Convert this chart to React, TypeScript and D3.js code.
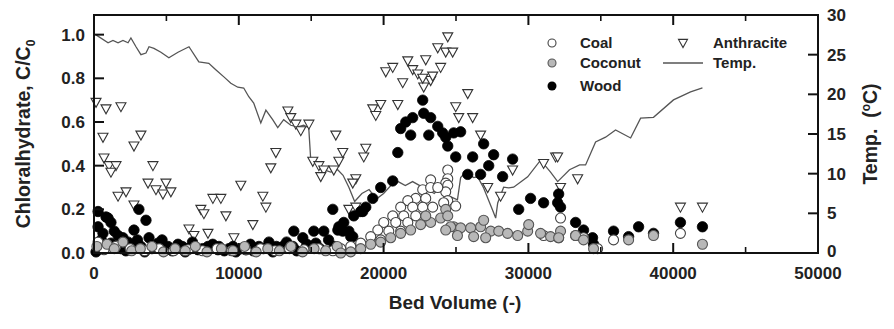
import React from "react";
import * as d3 from "d3";

const xTicks = [0, 10000, 20000, 30000, 40000, 50000];
const xMinorTicks = [5000, 15000, 25000, 35000, 45000];
const yTicks = [0, 0.2, 0.4, 0.6, 0.8, 1.0];
const tTicks = [0, 5, 10, 15, 20, 25, 30];

const anthracite: [number, number][] = [
  [140, 0.69], [830, 0.66], [1860, 0.67], [620, 0.53], [690, 0.435], [1035, 0.4], [1520, 0.4], [1170, 0.37],
  [3240, 0.54], [2760, 0.49], [4070, 0.4], [3730, 0.32], [4970, 0.32], [4280, 0.29], [4760, 0.27], [5310, 0.28],
  [1660, 0.26], [2210, 0.28], [2760, 0.22], [7380, 0.2], [7590, 0.18], [8210, 0.25], [8760, 0.25], [9110, 0.17],
  [10140, 0.31], [11660, 0.26], [11870, 0.21], [10970, 0.13], [6560, 0.11], [6900, 0.08], [7870, 0.09], [9660, 0.07],
  [12210, 0.39], [12560, 0.46], [13390, 0.65], [13590, 0.62], [13940, 0.59], [14280, 0.56], [14840, 0.59],
  [15110, 0.42], [15530, 0.4], [15870, 0.38], [15660, 0.35], [16700, 0.54], [16560, 0.38], [16910, 0.42],
  [17180, 0.46], [18770, 0.48], [18630, 0.44], [18080, 0.34], [17870, 0.32], [19250, 0.66], [19800, 0.68],
  [19460, 0.63], [20980, 0.68], [20150, 0.83], [20630, 0.85], [21320, 0.78], [21670, 0.88], [22010, 0.84],
  [22360, 0.82], [22910, 0.885], [22770, 0.76], [23250, 0.79], [23940, 0.85], [23740, 0.94], [24290, 0.92],
  [24770, 0.92], [24430, 0.99], [22700, 0.8], [23390, 0.81], [25810, 0.73], [24980, 0.67], [25190, 0.62],
  [26150, 0.62], [26700, 0.54], [28910, 0.38], [31880, 0.44], [31050, 0.41], [17600, 0.2], [18080, 0.21],
  [27190, 0.3], [28080, 0.26], [32020, 0.44], [33400, 0.34], [32220, 0.3], [40500, 0.21], [42020, 0.21],
];

const wood: [number, number][] = [
  [280, 0.19], [970, 0.16], [3100, 0.2], [3590, 0.15], [2760, 0.105], [16490, 0.2], [13800, 0.1], [15180, 0.1],
  [15870, 0.1], [16840, 0.105], [830, 0.165], [1170, 0.14], [280, 0.12], [620, 0.09], [1660, 0.08], [2350, 0.05],
  [3800, 0.07], [4420, 0.045], [5110, 0.03], [5800, 0.04], [6490, 0.02], [7180, 0.015], [7870, 0.03], [8560, 0.015],
  [140, 0.005], [1170, 0.045], [1860, 0.02], [3240, 0.03], [8630, 0.03], [9320, 0.02], [10490, 0.015],
  [11390, 0.03], [12080, 0.05], [13040, 0.03], [14420, 0.07], [15320, 0.045], [13730, 0.03], [9800, 0.005],
  [12350, 0.005], [16910, 0.12], [20980, 0.46], [20630, 0.33], [19800, 0.3], [19250, 0.25], [18770, 0.21],
  [18420, 0.19], [17940, 0.17], [17250, 0.14], [17040, 0.115], [17600, 0.1], [17870, 0.075], [22700, 0.7],
  [22010, 0.62], [22770, 0.64], [23250, 0.62], [21530, 0.6], [21180, 0.57], [21870, 0.54], [23120, 0.54],
  [23740, 0.58], [24080, 0.55], [24290, 0.53], [24840, 0.55], [25320, 0.555], [24430, 0.49], [24980, 0.44],
  [25810, 0.36], [26150, 0.44], [26910, 0.5], [27600, 0.45], [26700, 0.36], [27260, 0.4], [28220, 0.35],
  [28910, 0.43], [30150, 0.25], [29330, 0.2], [31050, 0.23], [32020, 0.23], [18560, 0.19], [17180, 0.1],
  [17730, 0.075], [32090, 0.27], [32220, 0.21], [33260, 0.14], [33810, 0.105], [34430, 0.07], [34500, 0.04],
  [35880, 0.1], [36920, 0.075], [37610, 0.12], [38640, 0.09], [40500, 0.14], [42020, 0.12],
  [500, 0.06], [1400, 0.1], [2000, 0.07], [2600, 0.04], [3000, 0.06], [4000, 0.02], [4700, 0.06], [5400, 0.01],
  [6100, 0.03], [6800, 0.05], [7500, 0.02], [8200, 0.04], [9000, 0.01], [9600, 0.03], [10200, 0.02],
  [10800, 0.04], [11000, 0.01], [11700, 0.02], [12600, 0.03], [13300, 0.05], [14000, 0.01], [14700, 0.04],
  [15600, 0.02], [16200, 0.06], [16600, 0.03], [2200, 0.01], [3500, 0.005], [5000, 0.015], [6300, 0.005],
];

const coal: [number, number][] = [
  [24430, 0.38], [24430, 0.34], [24290, 0.32], [24430, 0.31], [24290, 0.28], [24430, 0.24], [24980, 0.215],
  [24150, 0.23], [23250, 0.335], [22700, 0.29], [23250, 0.3], [22220, 0.25], [22910, 0.25], [23740, 0.3],
  [21670, 0.24], [21180, 0.21], [22010, 0.21], [22700, 0.21], [23390, 0.21], [20630, 0.17], [21390, 0.17],
  [22220, 0.17], [20010, 0.14], [20840, 0.14], [21670, 0.14], [19600, 0.105], [20360, 0.1], [21180, 0.1],
  [19110, 0.075], [19800, 0.06], [18420, 0.045], [17730, 0.03], [17040, 0.02], [280, 0.05], [690, 0.015],
  [1500, 0.03], [2500, 0.02], [3500, 0.01], [4500, 0.02], [5500, 0.01], [6500, 0.015], [7500, 0.01],
  [8500, 0.02], [9500, 0.01], [10500, 0.015], [11500, 0.02], [12500, 0.01], [13500, 0.02], [14500, 0.015],
  [15500, 0.02], [16500, 0.01], [31050, 0.08], [32090, 0.07], [32220, 0.16], [33260, 0.08], [33810, 0.07],
  [34780, 0.02], [35880, 0.06], [40500, 0.09],
];

const coconut: [number, number][] = [
  [200, 0.03], [900, 0.04], [1400, 0.02], [2000, 0.05], [2600, 0.01], [3200, 0.02], [4000, 0.03], [4800, 0.005],
  [5600, 0.02], [6300, 0.01], [7000, 0.03], [7800, 0.005], [8800, 0.02], [9600, 0.01], [10400, 0.03],
  [11200, 0.005], [12000, 0.02], [12800, 0.01], [13600, 0.03], [14400, 0.005], [15200, 0.02], [16000, 0.01],
  [16800, 0.03], [17040, 0.0], [17730, 0.005], [18420, 0.02], [19110, 0.04], [19800, 0.05], [20490, 0.07],
  [21180, 0.09], [21870, 0.105], [22560, 0.13], [23250, 0.14], [22910, 0.17], [23940, 0.16], [24290, 0.2],
  [24430, 0.17], [24840, 0.12], [24630, 0.12], [25320, 0.115], [26010, 0.115], [26700, 0.12], [26910, 0.15],
  [27400, 0.1], [27950, 0.1], [28560, 0.09], [29260, 0.08], [29950, 0.1], [30020, 0.13], [30840, 0.09],
  [31530, 0.075], [24290, 0.105], [25100, 0.08], [26220, 0.075], [27050, 0.07], [33260, 0.08], [33810, 0.06],
  [34500, 0.02], [36920, 0.06], [38640, 0.08], [42020, 0.04], [32220, 0.1], [32090, 0.07],
];

const temperature: [number, number][] = [
  [140, 27.5], [970, 26.5], [1310, 26.8], [1660, 26.5], [2000, 26.8], [2350, 26.5], [2550, 27.1], [2900, 26],
  [3240, 25], [3590, 25.2], [3800, 26], [4140, 25.8], [4620, 25.3], [5170, 24.6], [5800, 25.3], [6560, 26],
  [7240, 24.1], [7590, 24], [7930, 23.9], [8410, 23.1], [8970, 22.2], [9450, 21.4], [9930, 20.9], [10340, 20.8],
  [10690, 19.7], [11030, 18.9], [11520, 16.4], [11870, 18], [12340, 16.8], [12690, 15.8], [13100, 16.8],
  [13590, 16.1], [14070, 15.9], [14480, 16.1], [14830, 15.8], [14970, 11.7], [15450, 11.3], [15860, 10.5],
  [16340, 10.2], [16830, 10.5], [17200, 9.8], [17600, 8.3], [18000, 6.5], [18500, 7.5], [19000, 8.0],
  [19500, 6.8], [20000, 7.5], [20500, 8.5], [21000, 9], [21500, 8.5], [22000, 9], [22500, 8.5], [23000, 8],
  [23500, 7.5], [24000, 8.5], [24500, 7.2], [25100, 6.7], [25320, 9.5], [25670, 10.2], [26220, 9.5],
  [26500, 9.6], [26910, 8.2], [27530, 5.4], [27740, 4.4], [27880, 6.3], [28290, 8.3], [28640, 8.2],
  [28980, 8.3], [29950, 9.6], [30840, 11.7], [31530, 10.2], [32020, 9.0], [32840, 10.5], [33540, 11.1],
  [33950, 11.1], [34640, 14], [35330, 14.6], [36020, 15.5], [37060, 14.5], [37750, 17], [38640, 17.1],
  [40020, 19.3], [41200, 20.3], [42020, 20.8],
];

const W = 894;
const H = 329;
const L = 94;
const R = 818;
const T = 15;
const B = 253;
const FONT = "'Liberation Sans', Arial, Helvetica, sans-serif";

const tri = (x: number, y: number, s = 5) =>
  `M${x - s},${y - s * 0.8}L${x + s},${y - s * 0.8}L${x},${y + s}Z`;

export default function App() {
  const x = d3.scaleLinear().domain([0, 50000]).range([L, R]);
  const y = d3.scaleLinear().domain([0, 1.09]).range([B, T]);
  const yt = d3.scaleLinear().domain([0, 30]).range([B, T]);
  const line = d3
    .line<[number, number]>()
    .x((d) => x(d[0]))
    .y((d) => yt(d[1]));

  const tickFont = 17;
  return (
    <svg width={W} height={H} style={{ display: "block", position: "absolute", left: 0, top: 0 }}>
      <rect x={0} y={0} width={W} height={H} fill="#fff" />
      <path d={line(temperature) || ""} fill="none" stroke="#555" strokeWidth={1.3} />
      {anthracite.map((d, i) => (
        <path key={"a" + i} d={tri(x(d[0]), y(d[1]))} fill="#fff" stroke="#333" strokeWidth={1.1} />
      ))}
      {wood.map((d, i) => (
        <circle key={"w" + i} cx={x(d[0])} cy={y(d[1])} r={5.2} fill="#000" stroke="#000" strokeWidth={0.8} />
      ))}
      {coal.map((d, i) => (
        <circle key={"c" + i} cx={x(d[0])} cy={y(d[1])} r={5} fill="#fff" stroke="#444" strokeWidth={1.1} />
      ))}
      {coconut.map((d, i) => (
        <circle key={"n" + i} cx={x(d[0])} cy={y(d[1])} r={5} fill="#b8b8b8" stroke="#555" strokeWidth={1.1} />
      ))}

      {/* frame */}
      <rect x={L} y={T} width={R - L} height={B - T} fill="none" stroke="#111" strokeWidth={2} />

      {/* x ticks */}
      {xTicks.map((t) => (
        <g key={"xt" + t}>
          <line x1={x(t)} x2={x(t)} y1={B} y2={B - 10} stroke="#111" strokeWidth={2} />
          <line x1={x(t)} x2={x(t)} y1={T} y2={T + 10} stroke="#111" strokeWidth={2} />
          <text x={x(t)} y={B + 26} textAnchor="middle" fontFamily={FONT} fontWeight="bold" fontSize={tickFont} fill="#222">
            {t}
          </text>
        </g>
      ))}
      {xMinorTicks.map((t) => (
        <g key={"xm" + t}>
          <line x1={x(t)} x2={x(t)} y1={B} y2={B - 6} stroke="#111" strokeWidth={1.6} />
          <line x1={x(t)} x2={x(t)} y1={T} y2={T + 6} stroke="#111" strokeWidth={1.6} />
        </g>
      ))}
      {/* left ticks */}
      {yTicks.map((t) => (
        <g key={"yt" + t}>
          <line x1={L} x2={L + 10} y1={y(t)} y2={y(t)} stroke="#111" strokeWidth={2} />
          <text x={L - 9} y={y(t)} dy="0.36em" textAnchor="end" fontFamily={FONT} fontWeight="bold" fontSize={tickFont} fill="#222">
            {d3.format(".1f")(t)}
          </text>
        </g>
      ))}
      {/* right ticks */}
      {tTicks.map((t) => (
        <g key={"tt" + t}>
          {t > 0 && t < 30 && <line x1={R} x2={R - 10} y1={yt(t)} y2={yt(t)} stroke="#111" strokeWidth={2} />}
          <text x={R + 9} y={yt(t) - (t === 0 ? 2 : 0)} dy="0.36em" textAnchor="start" fontFamily={FONT} fontWeight="bold" fontSize={tickFont} fill="#222">
            {t}
          </text>
        </g>
      ))}

      {/* titles */}
      <text x={455} y={309} textAnchor="middle" fontFamily={FONT} fontWeight="bold" fontSize={19} fill="#222">
        {"Bed Volume  (-)"}
      </text>
      <text transform={`translate(30,${(T + B) / 2}) rotate(-90)`} textAnchor="middle" fontFamily={FONT} fontWeight="bold" fontSize={19.5} fill="#222">
        Chloralhydrate, C/C<tspan fontSize={12} dy={5}>0</tspan>
      </text>
      <text transform={`translate(877,134) rotate(-90)`} textAnchor="middle" fontFamily={FONT} fontWeight="bold" fontSize={19.5} fill="#222" style={{ whiteSpace: "pre" }}>
        {"Temp.  ("}<tspan fontSize={12} dy={-7}>o</tspan><tspan dy={7}>C)</tspan>
      </text>

      {/* legend */}
      <g fontFamily={FONT} fontWeight="bold" fontSize={15} fill="#222">
        <circle cx={552} cy={43} r={4} fill="#fff" stroke="#444" strokeWidth={1.1} />
        <text x={580} y={43} dy="0.36em">Coal</text>
        <circle cx={552} cy={63} r={4} fill="#b8b8b8" stroke="#555" strokeWidth={1.1} />
        <text x={580} y={63} dy="0.36em">Coconut</text>
        <circle cx={552} cy={86} r={4.5} fill="#000" />
        <text x={580} y={86} dy="0.36em">Wood</text>
        <path d={tri(683, 43, 4.5)} fill="#fff" stroke="#333" strokeWidth={1.1} />
        <text x={713} y={43} dy="0.36em">Anthracite</text>
        <line x1={663} x2={703} y1={63} y2={63} stroke="#555" strokeWidth={1.3} />
        <text x={713} y={63} dy="0.36em">Temp.</text>
      </g>
    </svg>
  );
}
